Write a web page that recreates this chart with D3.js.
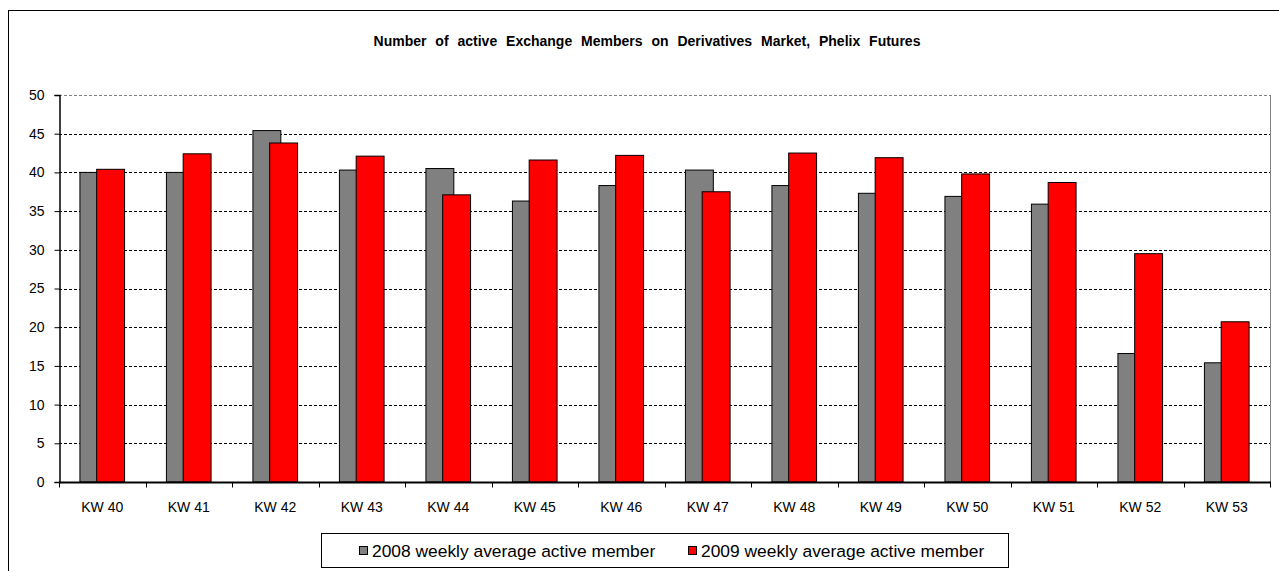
<!DOCTYPE html>
<html>
<head>
<meta charset="utf-8">
<script src="https://cdn.jsdelivr.net/npm/d3@7"></script>
<style>
  html, body { margin: 0; padding: 0; background: #fff; }
  svg { display: block; font-family: Arial, "Liberation Sans", sans-serif; }
</style>
</head>
<body>
<svg id="chart" width="1279" height="571"></svg>
<script>
const categories = ["KW 40","KW 41","KW 42","KW 43","KW 44","KW 45","KW 46","KW 47","KW 48","KW 49","KW 50","KW 51","KW 52","KW 53"];
const series2008 = [40.0, 40.0, 45.4, 40.3, 40.5, 36.3, 38.3, 40.3, 38.3, 37.3, 36.9, 35.9, 16.6, 15.4];
const series2009 = [40.4, 42.4, 43.8, 42.1, 37.1, 41.6, 42.2, 37.5, 42.5, 41.9, 39.8, 38.7, 29.5, 20.7];
const yTicks = [0, 5, 10, 15, 20, 25, 30, 35, 40, 45, 50];
const seriesNames = ["2008 weekly average active member", "2009 weekly average active member"];
const seriesColors = ["#808080", "#FF0000"];
const title = "Number of active Exchange Members on Derivatives Market, Phelix Futures";

const svg = d3.select("#chart");
const plot = { left: 59, right: 1270, top: 95, bottom: 482 };

// outer chart border
svg.append("rect").attr("x", 8.5).attr("y", 10.5).attr("width", 1290).attr("height", 580)
  .attr("fill", "#fff").attr("stroke", "#000").attr("stroke-width", 1);

// title
svg.append("text").attr("x", 647).attr("y", 46).attr("text-anchor", "middle")
  .attr("font-size", 14).attr("font-weight", "bold").attr("word-spacing", 5)
  .attr("fill", "#000").text(title);

const x = d3.scaleBand().domain(categories).range([plot.left, plot.right]).padding(0);
const y = d3.scaleLinear().domain([0, 50]).range([plot.bottom, plot.top]);

// gridlines
svg.append("g").selectAll("line").data(yTicks.filter(t => t > 0)).join("line")
  .attr("x1", plot.left).attr("x2", plot.right)
  .attr("y1", d => Math.round(y(d)) + 0.5).attr("y2", d => Math.round(y(d)) + 0.5)
  .attr("stroke", d => d === 50 ? "#808080" : "#000")
  .attr("stroke-width", 1).attr("stroke-dasharray", "3,2");

// right plot border
svg.append("line").attr("x1", plot.right + 0.5).attr("x2", plot.right + 0.5)
  .attr("y1", plot.top).attr("y2", plot.bottom).attr("stroke", "#808080");

// bars (gap width 150%, overlap 40%)
const gap = 1.5, overlap = 0.4;
const bw = x.bandwidth() / (2 - overlap + gap);
const groupStart = (x.bandwidth() - bw * (2 - overlap)) / 2;
const seriesData = [series2008, series2009];
seriesData.forEach((vals, si) => {
  svg.append("g").selectAll("rect").data(vals).join("rect")
    .attr("x", (d, i) => x(categories[i]) + groupStart + si * bw * (1 - overlap))
    .attr("y", d => y(d))
    .attr("width", bw)
    .attr("height", d => y(0) - y(d))
    .attr("fill", seriesColors[si])
    .attr("stroke", "#000").attr("stroke-width", 1);
});

// y axis
const yAxis = d3.axisLeft(y).tickValues(yTicks).tickSize(5).tickPadding(10);
const gy = svg.append("g").attr("transform", `translate(${plot.left + 0.5},0)`).call(yAxis);
gy.select(".domain").attr("stroke", "#000").attr("stroke-width", 1.5);
gy.selectAll(".tick line").attr("stroke", "#000");
gy.selectAll(".tick text").attr("font-size", 14).attr("font-family", "Arial, 'Liberation Sans', sans-serif").attr("fill", "#000");

// x axis with ticks at category boundaries
const gx = svg.append("g").attr("transform", `translate(0,${plot.bottom + 0.5})`);
gx.append("line").attr("x1", plot.left).attr("x2", plot.right + 1).attr("stroke", "#000").attr("stroke-width", 2);
const bounds = categories.map(c => x(c)).concat([plot.right]);
gx.selectAll("line.tk").data(bounds).join("line").attr("class", "tk")
  .attr("x1", d => Math.round(d) + 0.5).attr("x2", d => Math.round(d) + 0.5)
  .attr("y1", 0).attr("y2", 5).attr("stroke", "#000");
gx.selectAll("text").data(categories).join("text")
  .attr("x", d => x(d) + x.bandwidth() / 2).attr("y", 29)
  .attr("text-anchor", "middle").attr("font-size", 14).attr("fill", "#000").text(d => d);

// legend
const lg = svg.append("g");
lg.append("rect").attr("x", 321.5).attr("y", 533.5).attr("width", 687).attr("height", 34)
  .attr("fill", "#fff").attr("stroke", "#000").attr("stroke-width", 1);
const legendX = [359, 688];
seriesNames.forEach((n, i) => {
  lg.append("rect").attr("x", legendX[i] + 0.5).attr("y", 546.5).attr("width", 8).attr("height", 8)
    .attr("fill", seriesColors[i]).attr("stroke", "#000");
  lg.append("text").attr("x", legendX[i] + 13).attr("y", 557).attr("font-size", 17.4)
    .attr("fill", "#000").text(n);
});
</script>
</body>
</html>
